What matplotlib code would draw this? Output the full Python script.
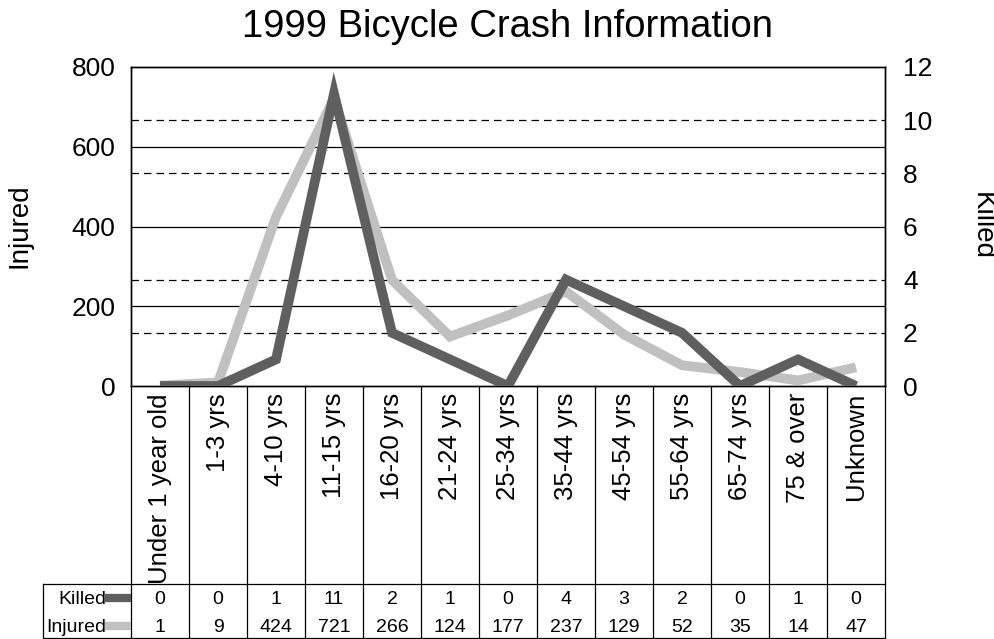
import matplotlib
matplotlib.use("Agg")
import matplotlib.pyplot as plt
import numpy as np

plt.rcParams['font.family'] = ['Liberation Sans', 'DejaVu Sans']

categories = ["Under 1 year old", "1-3 yrs", "4-10 yrs", "11-15 yrs", "16-20 yrs",
              "21-24 yrs", "25-34 yrs", "35-44 yrs", "45-54 yrs", "55-64 yrs",
              "65-74 yrs", "75 & over", "Unknown"]
killed = [0, 0, 1, 11, 2, 1, 0, 4, 3, 2, 0, 1, 0]
injured = [1, 9, 424, 721, 266, 124, 177, 237, 129, 52, 35, 14, 47]
injured_ticks = [0, 200, 400, 600, 800]
killed_ticks = [0, 2, 4, 6, 8, 10, 12]

W, H = 995, 639
fig = plt.figure(figsize=(W / 100, H / 100), dpi=100)

L, R, T, B = 131, 885, 67, 386
ax = fig.add_axes([L / W, 1 - B / H, (R - L) / W, (B - T) / H])
ax2 = ax.twinx()

n = len(categories)
x = np.arange(n)
dark = '#5f5f5f'
light = '#c0c0c0'

ax.set_xlim(-0.5, n - 0.5)
ax.set_ylim(0, 800)
ax2.set_ylim(0, 12)

# gridlines
for v in injured_ticks[1:-1]:
    ax.axhline(v, color='black', lw=0.9, zorder=1)
for v in killed_ticks[1:-1]:
    if v == 6:
        continue
    ax.axhline(v * 800 / 12, color='black', lw=0.9, ls=(0, (6, 4)), zorder=1)

ax.plot(x, injured, color=light, lw=7, solid_joinstyle='miter', solid_capstyle='butt', zorder=3)
ax2.plot(x, killed, color=dark, lw=7, solid_joinstyle='miter', solid_capstyle='butt', zorder=3)

ax.set_yticks(injured_ticks)
ax2.set_yticks(killed_ticks)
ax.set_xticks([])
ax.tick_params(axis='y', length=0, pad=11, labelsize=19)
ax2.tick_params(axis='y', length=0, pad=13, labelsize=19)
for a in (ax, ax2):
    for s in a.spines.values():
        s.set_color('black')
        s.set_linewidth(1.0)

fig.text(20 / W, 1 - 226 / H, "Injured", rotation=90, ha='center', va='center', fontsize=20)
fig.text(982 / W, 1 - 226 / H, "Killed", rotation=270, ha='center', va='center', fontsize=20)
fig.text(0.5 * (L + R) / W, 1 - 27 / H, "1999 Bicycle Crash Information", ha='center', va='center', fontsize=27.5)

# category labels + data table
TB = 638
axb = fig.add_axes([L / W, 1 - TB / H, (R - L) / W, (TB - B) / H])
axb.set_xlim(-0.5, n - 0.5)
axb.set_ylim(TB - B, 0)  # pixel-like coords, 0 at top
axb.axis('off')
row_top = 584 - B
total = TB - B
y_k = 599 - B
y_i = 627 - B
lc = dict(color='black', lw=0.9, clip_on=False)
for i in range(n + 1):
    axb.plot([i - 0.5, i - 0.5], [0, total], **lc)
axb.plot([-0.5, n - 0.5], [row_top, row_top], **lc)
axb.plot([-0.5, n - 0.5], [total, total], **lc)
colw = (R - L) / n
left_ext = -0.5 - (L - 43) / colw
axb.plot([left_ext, -0.5], [row_top, row_top], **lc)
axb.plot([left_ext, -0.5], [total, total], **lc)
axb.plot([left_ext, left_ext], [row_top, total], **lc)

for i, c in enumerate(categories):
    axb.text(i, 7, c, rotation=90, ha='center', va='top', fontsize=18.5)
    axb.text(i, y_k, str(killed[i]), ha='center', va='center', fontsize=14)
    axb.text(i, y_i, str(injured[i]), ha='center', va='center', fontsize=14)

sw0 = -0.5 - 26 / colw
axb.plot([sw0, -0.5], [y_k - 1] * 2, color=dark, lw=6, solid_capstyle='butt', clip_on=False)
axb.plot([sw0, -0.5], [y_i - 1] * 2, color=light, lw=6, solid_capstyle='butt', clip_on=False)
axb.text(sw0 + 0.02, y_k, "Killed", ha='right', va='center', fontsize=14)
axb.text(sw0 + 0.02, y_i, "Injured", ha='right', va='center', fontsize=14)

fig.savefig("out.png", dpi=100)
